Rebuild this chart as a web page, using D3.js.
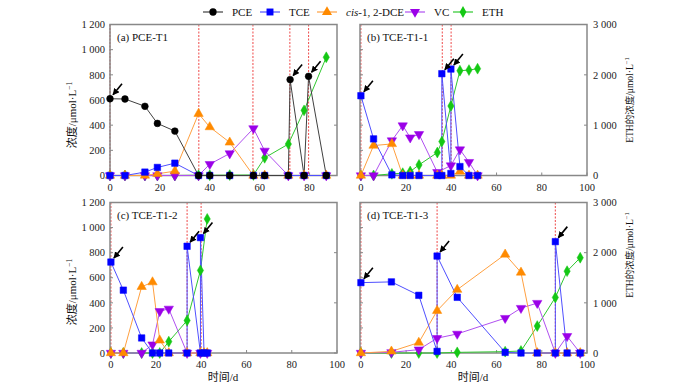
<!DOCTYPE html>
<html><head><meta charset="utf-8">
<script src="https://cdn.jsdelivr.net/npm/d3@7"></script>
<style>body{margin:0;background:#fff}svg{display:block}</style>
</head><body><svg id="c" width="700" height="391"></svg>
<script>
// ---------- data ([day, value]) ----------
const seriesNames = ["PCE","TCE","cis-1, 2-DCE","VC","ETH"];
const xTicksA = [0,20,40,60,80];
const xTicksOther = [0,20,40,60,80,100];
const yTicksLeft = [0,200,400,600,800,1000,1200];
const yTicksRight = [0,1000,2000,3000];

// (a) PCE-T1
const a_PCE = [[0,610],[6,608],[14,550],[19,414],[26,353],[35.5,0],[40,0],[48,0],[57.5,0],[62,0],[71.5,0],[72.2,762],[77.8,0],[79.6,788],[86.7,0]];
const a_TCE = [[0,0],[6,0],[14,27],[19,64],[26,98],[35.5,0],[40,0],[48,0],[57.5,0],[62,0],[71.5,0],[77.8,0],[86.7,0]];
const a_DCE = [[0,0],[6,0],[14,0],[19,13],[26,35],[35.5,491],[40,385],[48,263],[57.5,0],[62,0],[71.5,0],[77.8,0],[86.7,0]];
const a_VC  = [[0,0],[6,0],[14,0],[19,0],[26,0],[35.5,0],[40,90],[48,175],[57.5,374],[62,196],[71.5,0],[77.8,0],[86.7,0]];
const a_ETH = [[0,0],[6,0],[14,0],[19,0],[26,0],[35.5,5],[40,5],[48,8],[57.5,10],[62,352],[71.5,624],[77.8,1294],[86.7,2349]];
const a_spikes = [0,35.6,57.3,72.1,79.6];
const a_arrows = [[0,610],[72.2,762],[79.6,788]];

// (b) TCE-T1-1
const b_TCE = [[0,634],[5.6,291],[13.7,5],[18.5,0],[21.8,0],[25.7,0],[33.8,0],[35.8,0],[35.8,809],[39.8,16],[39.8,846],[43.8,71],[47.8,0],[51.6,0]];
const b_DCE = [[0,0],[5.6,238],[13.7,251],[18.5,0],[21.8,0],[25.7,0],[33.8,0],[35.8,0],[39.8,0],[43.8,32],[47.8,0],[51.6,0]];
const b_VC  = [[0,0],[5.6,0],[13.7,278],[18.5,397],[21.8,301],[25.7,328],[33.8,26],[39.8,79],[43.8,206],[47.8,106],[51.6,0]];
const b_ETH = [[0,0],[5.6,0],[13.7,33],[18.5,46],[21.8,79],[25.7,211],[33.8,456],[35.8,674],[39.8,1381],[43.8,2082],[47.8,2095],[51.6,2122]];
const b_spikes = [0,36,39.9];
const b_arrows = [[0,634],[35.8,809],[39.8,846]];

// (c) TCE-T1-2
const c_TCE = [[0,725],[5.5,501],[13.6,120],[18.4,0],[21.6,0],[25.6,0],[33.7,0],[33.7,851],[39.6,0],[39.6,920],[41.2,0],[42.6,0]];
const c_DCE = [[0,0],[5.5,0],[13.6,528],[18.4,565],[21.6,101],[25.6,0],[33.7,0],[39.6,0],[41.2,0],[42.6,0]];
const c_VC  = [[0,0],[5.5,0],[13.6,0],[18.4,67],[21.6,333],[25.6,352],[33.7,0],[39.6,0],[42.6,0]];
const c_ETH = [[0,0],[5.5,0],[13.6,0],[18.4,0],[21.6,0],[25.6,227],[33.7,647],[39.6,1647],[42.6,2673]];
const c_spikes = [0,33.7,39.9];
const c_arrows = [[0,725],[33.7,851],[39.6,920]];

// (d) TCE-T1-3
const d_TCE = [[0,561],[13.5,567],[25.6,460],[33.7,13],[33.7,773],[42.6,444],[63.8,5],[70.8,0],[78,0],[86,0],[86,888],[91.2,0],[97,0]];
const d_DCE = [[0,0],[13.5,13],[25.6,83],[33.7,337],[42.6,505],[63.8,786],[70.8,642],[78,0],[86,0],[91.2,0],[97,0]];
const d_VC  = [[0,0],[13.5,5],[25.6,27],[33.7,118],[42.6,152],[63.8,278],[70.8,358],[78,398],[86,0],[91.2,134],[97,0]];
const d_ETH = [[0,0],[13.5,0],[25.6,0],[33.7,0],[42.6,13],[63.8,27],[70.8,40],[78,537],[86,1107],[91.2,1631],[97,1899]];
const d_spikes = [0,33.7,86];
const d_arrows = [[0,561],[33.7,773],[86,888]];

// ---------- styles ----------
const FONT = "'Liberation Serif','Times New Roman',serif";
const CJK = "'Liberation Serif','Noto Sans CJK SC',serif";
const styles = {
  "PCE":  {m:"#000000", l:"#404040", sym:d3.symbolCircle, size:36, rot:0},
  "TCE":  {m:"#0000ff", l:"#5050ff", sym:d3.symbolSquare, size:42, rot:0},
  "cis-1, 2-DCE": {m:"#ff8a00", l:"#ffa040", sym:d3.symbolTriangle, size:38, rot:0},
  "VC":   {m:"#9b00e8", l:"#b050f0", sym:d3.symbolTriangle, size:38, rot:180},
  "ETH":  {m:"#14c814", l:"#30c830", sym:d3.symbolDiamond, size:34, rot:0}
};

const panels = [
  {title:"(a) PCE-T1", x0:110, x1:337, y0:24.5, y1:175.5, xd:[0,91], xt:xTicksA, left:true, right:false,
   data:{"PCE":a_PCE,"TCE":a_TCE,"cis-1, 2-DCE":a_DCE,"VC":a_VC,"ETH":a_ETH}, spikes:a_spikes, arrows:a_arrows},
  {title:"(b) TCE-T1-1", x0:360, x1:587, y0:24.5, y1:175.5, xd:[-0.4,100], xt:xTicksOther, left:false, right:true,
   data:{"TCE":b_TCE,"cis-1, 2-DCE":b_DCE,"VC":b_VC,"ETH":b_ETH}, spikes:b_spikes, arrows:b_arrows},
  {title:"(c) TCE-T1-2", x0:110, x1:337, y0:202.5, y1:353, xd:[-0.4,100], xt:xTicksOther, left:true, right:false,
   data:{"TCE":c_TCE,"cis-1, 2-DCE":c_DCE,"VC":c_VC,"ETH":c_ETH}, spikes:c_spikes, arrows:c_arrows},
  {title:"(d) TCE-T1-3", x0:360, x1:587, y0:202.5, y1:353, xd:[-0.4,100], xt:xTicksOther, left:false, right:true,
   data:{"TCE":d_TCE,"cis-1, 2-DCE":d_DCE,"VC":d_VC,"ETH":d_ETH}, spikes:d_spikes, arrows:d_arrows}
];

const svg = d3.select("#c");
const defs = svg.append("defs");
defs.append("marker").attr("id","ah").attr("viewBox","0 0 10 10").attr("refX",9).attr("refY",5)
  .attr("markerWidth",4.2).attr("markerHeight",4.2).attr("orient","auto")
  .append("path").attr("d","M0,0L10,5L0,10z").attr("fill","#000");

const AX = "#888";
const drawOrder = ["ETH","VC","cis-1, 2-DCE","TCE","PCE"];

panels.forEach(p => {
  const x = d3.scaleLinear().domain(p.xd).range([p.x0,p.x1]);
  const yL = d3.scaleLinear().domain([0,1200]).range([p.y1,p.y0]);
  const yR = d3.scaleLinear().domain([0,3000]).range([p.y1,p.y0]);
  const g = svg.append("g");

  p.spikes.forEach(s => {
    g.append("line").attr("x1",x(s)).attr("x2",x(s)).attr("y1",p.y0).attr("y2",p.y1)
      .attr("stroke","#f05a5a").attr("stroke-width",1.1).attr("stroke-dasharray","2,1.5");
  });

  g.append("rect").attr("x",p.x0).attr("y",p.y0).attr("width",p.x1-p.x0).attr("height",p.y1-p.y0)
    .attr("fill","none").attr("stroke",AX).attr("stroke-width",1.5);

  p.xt.forEach(t => {
    g.append("line").attr("x1",x(t)).attr("x2",x(t)).attr("y1",p.y1).attr("y2",p.y1-3).attr("stroke",AX).attr("stroke-width",1);
    g.append("text").attr("x",x(t)).attr("y",p.y1+15).attr("text-anchor","middle")
      .attr("font-family",FONT).attr("font-size",10.5).attr("fill","#222").text(t);
  });
  yTicksLeft.forEach(t => {
    g.append("line").attr("x1",p.x0).attr("x2",p.x0+3).attr("y1",yL(t)).attr("y2",yL(t)).attr("stroke",AX).attr("stroke-width",1);
    if (p.left) g.append("text").attr("x",p.x0-5).attr("y",yL(t)).attr("dy","0.35em").attr("text-anchor","end")
      .attr("font-family",FONT).attr("font-size",10.5).attr("fill","#222").text(d3.format(",")(t).replace(/,/g," "));
  });
  yTicksRight.forEach(t => {
    g.append("line").attr("x1",p.x1).attr("x2",p.x1-3).attr("y1",yR(t)).attr("y2",yR(t)).attr("stroke",AX).attr("stroke-width",1);
    if (p.right) g.append("text").attr("x",p.x1+6).attr("y",yR(t)).attr("dy","0.35em").attr("text-anchor","start")
      .attr("font-family",FONT).attr("font-size",10.5).attr("fill","#222").text(d3.format(",")(t).replace(/,/g," "));
  });

  drawOrder.forEach(name => {
    const arr = p.data[name]; if (!arr) return;
    const ys = name==="ETH" ? yR : yL;
    const line = d3.line().x(d=>x(d[0])).y(d=>ys(d[1]));
    g.append("path").attr("d",line(arr)).attr("fill","none").attr("stroke",styles[name].l).attr("stroke-width",1);
  });
  drawOrder.forEach(name => {
    const arr = p.data[name]; if (!arr) return;
    const st = styles[name];
    const ys = name==="ETH" ? yR : yL;
    const sym = d3.symbol().type(st.sym).size(st.size);
    g.selectAll(null).data(arr).enter().append("path").attr("d",sym)
      .attr("transform",d=>`translate(${x(d[0])},${ys(d[1])}) rotate(${st.rot})`)
      .attr("fill",st.m).attr("stroke",st.m).attr("stroke-width",0.5);
  });

  p.arrows.forEach(a => {
    const px = x(a[0]), py = yL(a[1]);
    g.append("line").attr("x1",px+12).attr("y1",py-15).attr("x2",px+3).attr("y2",py-4)
      .attr("stroke","#000").attr("stroke-width",1.6).attr("marker-end","url(#ah)");
  });

  g.append("text").attr("x",p.x0+7).attr("y",p.y0+16).attr("font-family",FONT).attr("font-size",11)
    .attr("fill","#111").text(p.title);
});

function yLabel(cx, cy, pre, size){
  const t = svg.append("text").attr("transform",`translate(${cx},${cy}) rotate(-90)`)
    .attr("text-anchor","middle").attr("font-family",CJK).attr("font-size",size).attr("fill","#111");
  t.append("tspan").text(pre + "/μmol·L");
  t.append("tspan").attr("dy",-size*0.4).attr("font-size",size*0.7).text("−1");
}
yLabel(76, 115, "浓度", 11);
yLabel(76, 292, "浓度", 11);
yLabel(633, 100, "ETH的浓度", 9.5);
yLabel(633, 255, "ETH的浓度", 9.5);

[[223,381],[473,381]].forEach(([cx,cy]) => {
  svg.append("text").attr("x",cx).attr("y",cy).attr("text-anchor","middle")
    .attr("font-family",CJK).attr("font-size",11).attr("fill","#111").text("时间/d");
});

const legendX = [213,270,327,415,463];
seriesNames.forEach((name,i) => {
  const st = styles[name], cx = legendX[i], cy = 12;
  svg.append("line").attr("x1",cx-10).attr("x2",cx+10).attr("y1",cy).attr("y2",cy).attr("stroke",st.l).attr("stroke-width",1.2);
  svg.append("path").attr("d",d3.symbol().type(st.sym).size(st.size+6)).attr("transform",`translate(${cx},${cy}) rotate(${st.rot})`).attr("fill",st.m);
  const t = svg.append("text").attr("x",cx+19).attr("y",cy).attr("dy","0.35em").attr("font-family",FONT).attr("font-size",11).attr("fill","#111");
  if (name.startsWith("cis")) { t.append("tspan").attr("font-style","italic").text("cis"); t.append("tspan").text("-1, 2-DCE"); }
  else t.text(name);
});
</script></body></html>
